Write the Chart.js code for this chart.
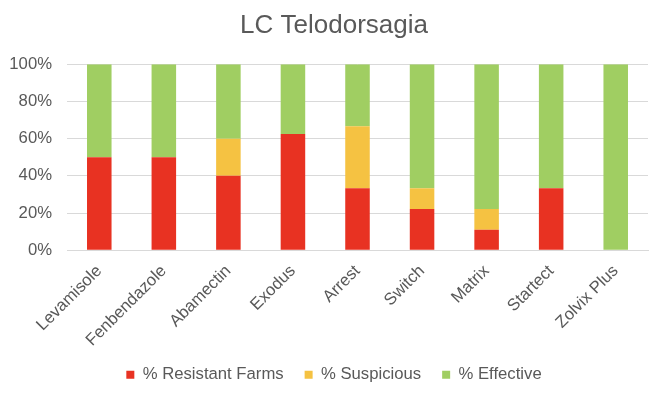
<!DOCTYPE html>
<html>
<head>
<meta charset="utf-8">
<title>LC Telodorsagia</title>
<script src="https://cdn.jsdelivr.net/npm/chart.js@4"></script>
<style>
    html, body { margin: 0; padding: 0; background: #ffffff; }
    #wrap { width: 668px; height: 399px; }
</style>
</head>
<body>
<div id="wrap"><canvas id="chart" width="668" height="399"></canvas></div>
<script>
// chart data
const categories = ['Levamisole', 'Fenbendazole', 'Abamectin', 'Exodus', 'Arrest',
    'Switch', 'Matrix', 'Startect', 'Zolvix Plus'];
const resistant = [50, 50, 40, 62.5, 33.3, 22.2, 11.1, 33.3, 0];
const suspicious = [0, 0, 20, 0, 33.3, 11.1, 11.1, 0, 0];
const effective = [50, 50, 40, 37.5, 33.4, 66.7, 77.8, 66.7, 100];
const seriesNames = ['% Resistant Farms', '% Suspicious', '% Effective'];

const textColor = '#595959';
const fontFamily = '"Liberation Sans", Arial, sans-serif';

function makeDataset(label, values, color) {
    return {
        label: label,
        data: values,
        backgroundColor: color,
        borderWidth: 0,
        categoryPercentage: 1,
        barPercentage: 0.38
    };
}

const ctx = document.getElementById('chart');
new Chart(ctx.getContext('2d'), {
    type: 'bar',
    data: {
        labels: categories,
        datasets: [
            makeDataset(seriesNames[0], resistant, '#E83222'),
            makeDataset(seriesNames[1], suspicious, '#F5C242'),
            makeDataset(seriesNames[2], effective, '#A0CE62')
        ]
    },
    options: {
        responsive: false,
        animation: false,
        layout: { padding: { left: 0, right: 0, top: 0, bottom: 6 } },
        plugins: {
            title: {
                display: true,
                text: 'LC Telodorsagia',
                color: textColor,
                font: { family: fontFamily, size: 26, weight: 'normal' },
                padding: { top: 10, bottom: 23 }
            },
            legend: {
                position: 'bottom',
                labels: {
                    color: textColor,
                    font: { family: fontFamily, size: 16.7 },
                    boxWidth: 8,
                    boxHeight: 8,
                    padding: 21
                }
            },
            tooltip: { enabled: false }
        },
        scales: {
            x: {
                stacked: true,
                grid: { display: false },
                border: { display: true, color: '#D9D9D9', width: 1 },
                ticks: {
                    color: textColor,
                    font: { family: fontFamily, size: 16.7 },
                    maxRotation: 45,
                    minRotation: 45,
                    padding: 3
                },
                afterFit: function (scale) {
                    scale.height = 95;
                    // long rotated labels reach past the axis box, don't clip them
                    scale._computeLabelArea = function () { return undefined; };
                }
            },
            y: {
                stacked: true,
                min: 0,
                max: 100,
                grid: { color: '#D9D9D9', lineWidth: 1, drawTicks: false },
                border: { display: false },
                ticks: {
                    stepSize: 10,
                    color: textColor,
                    font: { family: fontFamily, size: 16.7 },
                    padding: 15,
                    callback: function (v) { return v % 20 === 0 ? v + '%' : ''; }
                },
                afterFit: function (scale) { scale.width = 67; }
            },
            // empty right axis, only keeps the right margin so title/legend stay centred on the canvas
            yRight: {
                position: 'right',
                grid: { display: false },
                border: { display: false },
                ticks: { display: false },
                afterFit: function (scale) { scale.width = 20; }
            }
        }
    }
});
</script>
</body>
</html>
